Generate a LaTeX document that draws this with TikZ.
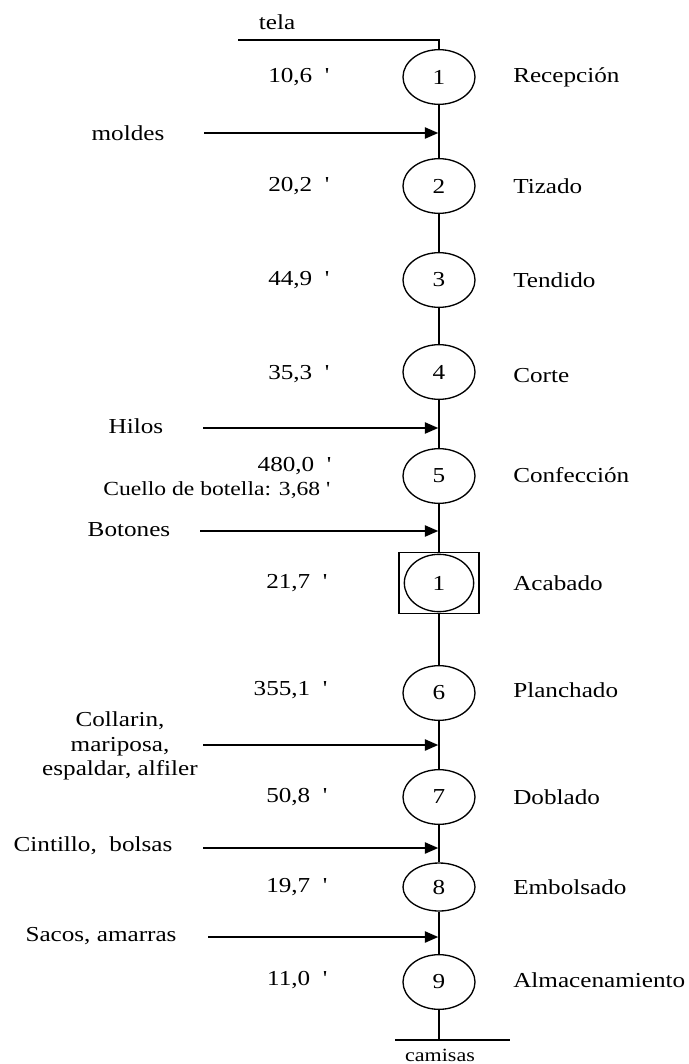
\documentclass[tikz,border=0pt]{standalone}
\usepackage{fontspec}
\setmainfont{Liberation Serif}[FakeStretch=1.18]
\usepackage{tikz}
\usetikzlibrary{shapes.geometric,arrows.meta,calc}

\newcommand{\tq}{\textquotesingle}

\begin{document}
\begin{tikzpicture}[x=0.75pt, y=-0.75pt,
    oper/.style={draw, ellipse, line width=1pt, fill=white, minimum width=54pt,
        minimum height=41pt, inner sep=0pt, font=\fontsize{16}{18}\selectfont},
    feed/.style={-{Triangle[length=10pt,width=8.5pt]}, line width=1pt, shorten >=0.6pt},
    txt/.style={inner sep=0pt, font=\fontsize{16}{18}\selectfont}]
    \useasboundingbox (0,0) rectangle (689,1064);

    % Operations on the main line
    \node[oper] (c1) at (439,77) {1};
    \node[oper] (c2) at (439,186) {2};
    \node[oper] (c3) at (439,280) {3};
    \node[oper] (c4) at (439,372) {4};
    \node[oper] (c5) at (439,476) {5};
    % Combined activity: inspection square around operation
    \node[draw, line width=1pt, minimum width=60pt, minimum height=46pt] (box) at (439,583) {};
    \node[oper, minimum width=52pt, minimum height=43pt] (a1) at (439,583) {1};
    \node[oper] (c6) at (439,693) {6};
    \node[oper] (c7) at (439,797) {7};
    \node[oper, minimum height=36pt] (c8) at (439,887) {8};
    \node[oper] (c9) at (439,982) {9};

    % Main line
    \draw[line width=1pt] (c1) -- (c2) -- (c3) -- (c4) -- (c5) -- (box);
    \draw[line width=1pt] (box) -- (c6) -- (c7) -- (c8) -- (c9);

    % Raw material at the top
    \coordinate (t0) at (238,40);
    \draw[line width=1pt] (t0) -- (t0 -| c1) -- (c1.north);
    \node[txt] (tela) at (277,22) {tela};

    % Product at the bottom
    \coordinate (sink) at (439,1040);
    \draw[line width=1pt] (c9) -- (sink);
    \draw[line width=0.8pt] (395,1040) -- (510,1040);
    \draw[line width=2.2pt] (400,1040) -- (477,1040);
    \node[inner sep=0pt, font=\fontsize{14}{16}\selectfont] (camisas) at (440,1055) {camisas};

    % Step names
    \node[txt, anchor=west] (n1) at (513,77) {Recepción};
    \node[txt, anchor=west] (n2) at (513,186) {Tizado};
    \node[txt, anchor=west] (n3) at (513,280) {Tendido};
    \node[txt, anchor=west] (n4) at (513,376) {Corte};
    \node[txt, anchor=west] (n5) at (513,475) {Confección};
    \node[txt, anchor=west] (na) at (513,583) {Acabado};
    \node[txt, anchor=west] (n6) at (513,690) {Planchado};
    \node[txt, anchor=west] (n7) at (513,797) {Doblado};
    \node[txt, anchor=west] (n8) at (513,887) {Embolsado};
    \node[txt, anchor=west] (n9) at (513,980) {Almacenamiento};

    % Times
    \node[txt, anchor=east] (t1) at (329,77) {10,6~~\tq};
    \node[txt, anchor=east] (t2) at (329,186) {20,2~~\tq};
    \node[txt, anchor=east] (t3) at (329,280) {44,9~~\tq};
    \node[txt, anchor=east] (t4) at (329,374) {35,3~~\tq};
    \node[txt, anchor=east] (t5) at (331,466) {480,0~~\tq};
    \node[inner sep=0pt, anchor=east, font=\fontsize{15}{17}\selectfont] (neck) at (330,490) {Cuello de botella: 3,68 \tq};
    \node[txt, anchor=east] (ta) at (327,583) {21,7~~\tq};
    \node[txt, anchor=east] (t6) at (327,690) {355,1~~\tq};
    \node[txt, anchor=east] (t7) at (327,797) {50,8~~\tq};
    \node[txt, anchor=east] (t8) at (327,887) {19,7~~\tq};
    \node[txt, anchor=east] (t9) at (327,980) {11,0~~\tq};

    % Inputs
    \node[txt] (moldes) at (128,133) {moldes};
    \coordinate (in1) at (204,133);
    \draw[feed] (in1) -- (in1 -| c1);

    \node[txt] (hilos) at (136,426) {Hilos};
    \coordinate (in2) at (203,428);
    \draw[feed] (in2) -- (in2 -| c5);

    \node[txt] (botones) at (129,530) {Botones};
    \coordinate (in3) at (200,531);
    \draw[feed] (in3) -- (in3 -| c5);

    \node[txt, align=center, font=\fontsize{16}{18.5}\selectfont] (collarin) at (120,746) {Collarin,\\mariposa,\\espaldar, alfiler};
    \coordinate (in4) at (203,745);
    \draw[feed] (in4) -- (in4 -| c6);

    \node[txt] (cintillo) at (93,846) {Cintillo,~ bolsas};
    \coordinate (in5) at (203,848);
    \draw[feed] (in5) -- (in5 -| c7);

    \node[txt] (sacos) at (101,936) {Sacos, amarras};
    \coordinate (in6) at (208,937);
    \draw[feed] (in6) -- (in6 -| c8);
\end{tikzpicture}
\end{document}
